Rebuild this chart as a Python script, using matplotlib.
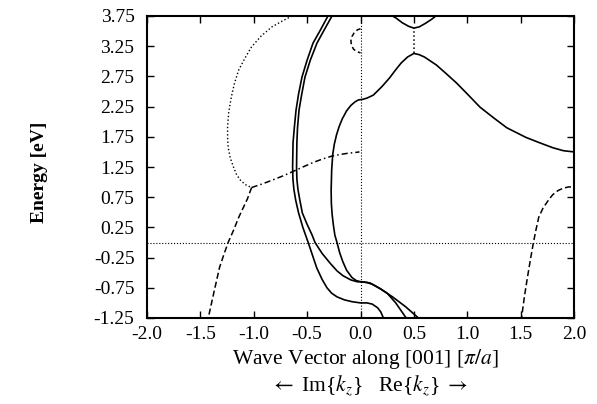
import numpy as np
import matplotlib
matplotlib.use("Agg")
import matplotlib.pyplot as plt

plt.rcParams['font.family'] = ['Liberation Serif', 'DejaVu Serif']
plt.rcParams['mathtext.fontset'] = 'stix'

# outer branch of the double line (solid)
r_k = [-0.305, -0.375, -0.445, -0.50, -0.548, -0.58, -0.604, -0.62, -0.632, -0.636, -0.633, -0.624, -0.607, -0.58,
       -0.54, -0.49, -0.45, -0.41, -0.36, -0.314, -0.27, -0.22, -0.15, -0.08, 0.0, 0.06, 0.11, 0.16, 0.19, 0.21, 0.22]
r_e = [3.75, 3.52, 3.30, 3.02, 2.74, 2.46, 2.19, 1.90, 1.65, 1.25, 1.05, 0.88, 0.70, 0.49,
       0.25, 0.0, -0.21, -0.42, -0.61, -0.75, -0.84, -0.90, -0.95, -0.98, -1.0, -1.0, -1.02, -1.08, -1.15, -1.23, -1.28]
# inner branch of the double line (solid)
q_k = [-0.267, -0.34, -0.408, -0.47, -0.52, -0.55, -0.576, -0.59, -0.596, -0.599, -0.596, -0.586, -0.568, -0.545,
       -0.50, -0.455, -0.426, -0.36, -0.286, -0.22, -0.164, -0.09, -0.03, 0.0, 0.06, 0.12, 0.19, 0.25, 0.33, 0.42, 0.44]
q_e = [3.75, 3.52, 3.30, 3.02, 2.74, 2.46, 2.19, 1.90, 1.65, 1.25, 1.05, 0.88, 0.70, 0.49,
       0.30, 0.13, 0.0, -0.18, -0.34, -0.47, -0.55, -0.62, -0.65, -0.65, -0.66, -0.70, -0.77, -0.84, -1.0, -1.23, -1.28]
# main band (solid)
p_k = [2.0, 1.9, 1.8, 1.68, 1.55, 1.37, 1.25, 1.12, 1.0, 0.90, 0.80, 0.71, 0.60, 0.55, 0.50,
       0.44, 0.38, 0.33, 0.27, 0.20, 0.12, 0.06, 0.02, -0.02, -0.05, -0.09, -0.13, -0.17, -0.20, -0.225, -0.245,
       -0.26, -0.27, -0.275, -0.273, -0.266, -0.255, -0.24, -0.22, -0.195, -0.165, -0.13, -0.08, -0.04, 0.0,
       0.09, 0.18, 0.30, 0.42, 0.53, 0.55]
p_e = [1.50, 1.52, 1.57, 1.65, 1.74, 1.90, 2.06, 2.24, 2.46, 2.64, 2.80, 2.94, 3.07, 3.11, 3.13,
       3.07, 2.97, 2.86, 2.72, 2.58, 2.44, 2.39, 2.37, 2.36, 2.33, 2.27, 2.18, 2.05, 1.92, 1.78, 1.63,
       1.46, 1.20, 0.87, 0.65, 0.47, 0.30, 0.12, 0.0, -0.17, -0.32, -0.46, -0.58, -0.63, -0.65,
       -0.67, -0.76, -0.90, -1.06, -1.23, -1.27]
# upper V band (solid)
v_k = [0.28, 0.33, 0.39, 0.45, 0.50, 0.55, 0.61, 0.67, 0.72]
v_e = [3.77, 3.72, 3.64, 3.58, 3.55, 3.57, 3.63, 3.70, 3.77]
# dotted loop on the imaginary side
a_k = [-0.64, -0.73, -0.83, -0.93, -1.02, -1.08, -1.14, -1.18, -1.21, -1.235, -1.245, -1.245, -1.24,
       -1.22, -1.19, -1.16, -1.12, -1.07, -1.02]
a_e = [3.75, 3.67, 3.57, 3.42, 3.24, 3.06, 2.86, 2.64, 2.41, 2.15, 1.91, 1.75, 1.58,
       1.40, 1.25, 1.12, 1.02, 0.95, 0.91]
# dash-dot branch
b_k = [-1.02, -0.92, -0.83, -0.73, -0.64, -0.54, -0.45, -0.36, -0.27, -0.18, -0.11, -0.05, -0.01]
b_e = [0.91, 0.97, 1.03, 1.10, 1.17, 1.25, 1.32, 1.38, 1.43, 1.46, 1.48, 1.49, 1.50]
# dashed branch, left
c_k = [-1.02, -1.06, -1.10, -1.14, -1.19, -1.24, -1.28, -1.32, -1.37, -1.42, -1.45]
c_e = [0.91, 0.72, 0.57, 0.42, 0.20, 0.0, -0.20, -0.41, -0.80, -1.20, -1.30]
# dashed branch, right
d_k = [1.49, 1.51, 1.535, 1.56, 1.59, 1.62, 1.645, 1.67, 1.71, 1.76, 1.80, 1.85, 1.90, 1.95, 2.0]
d_e = [-1.30, -1.23, -0.90, -0.62, -0.30, 0.0, 0.22, 0.42, 0.57, 0.70, 0.79, 0.86, 0.90, 0.92, 0.92]
# small dashed loop at k=0
s_k = [0.0, -0.03, -0.06, -0.08, -0.09, -0.085, -0.065, -0.035, 0.0]
s_e = [3.54, 3.52, 3.47, 3.41, 3.34, 3.27, 3.20, 3.16, 3.14]
# dotted gap link at k=0.5
g_k = [0.5, 0.5]
g_e = [3.13, 3.55]

yticks = [3.75, 3.25, 2.75, 2.25, 1.75, 1.25, 0.75, 0.25, -0.25, -0.75, -1.25]
xticks = [-2.0, -1.5, -1.0, -0.5, 0.0, 0.5, 1.0, 1.5, 2.0]

fig = plt.figure(figsize=(5.97, 4.04), dpi=100)
ax = fig.add_axes([147/597, 1-318/404, 427/597, 302/404])

lw = 1.2
ax.plot(r_k, r_e, '-', color='black', lw=lw)
ax.plot(q_k, q_e, '-', color='black', lw=lw)
ax.plot(p_k, p_e, '-', color='black', lw=lw)
ax.plot(v_k, v_e, '-', color='black', lw=lw)
ax.plot(a_k, a_e, ':', color='black', lw=1.0)
ax.plot(b_k, b_e, '-.', color='black', lw=1.1, dashes=(4, 2, 1, 2))
ax.plot(c_k, c_e, '--', color='black', lw=1.1, dashes=(4, 2))
ax.plot(d_k, d_e, '--', color='black', lw=1.1, dashes=(4, 2))
ax.plot(s_k, s_e, '--', color='black', lw=1.1, dashes=(3, 2))
ax.plot(g_k, g_e, ':', color='black', lw=1.1)
ax.axhline(0.0, color='black', lw=0.8, ls=':')
ax.axvline(0.0, color='black', lw=0.8, ls=':')

ax.set_xlim(-2.0, 2.0)
ax.set_ylim(-1.25, 3.75)
ax.set_xticks(xticks)
ax.set_yticks(yticks)
ax.set_xticklabels(['%.1f' % t for t in xticks])
ax.set_yticklabels(['%.2f' % t for t in yticks])
ax.tick_params(direction='in', top=True, right=True, length=5, width=1, labelsize=14)
ax.tick_params(axis='x', pad=6)
ax.tick_params(axis='y', pad=9)
for s in ax.spines.values():
    s.set_linewidth(1.5)

fig.text(365/597, 1 - 359/404, r'Wave Vector along [001] [$\pi/a$]',
         ha='center', va='center', fontsize=15.5)
fig.text(369/597, 1 - 386/404, r'$\leftarrow$ Im{$k_z$}   Re{$k_z$} $\rightarrow$',
         ha='center', va='center', fontsize=15.5)
fig.text(40/597, 1 - 172/404, 'Energy [eV]', rotation=90, ha='center', va='center',
         fontsize=14, fontweight='bold')

fig.savefig('out.png', dpi=100)
